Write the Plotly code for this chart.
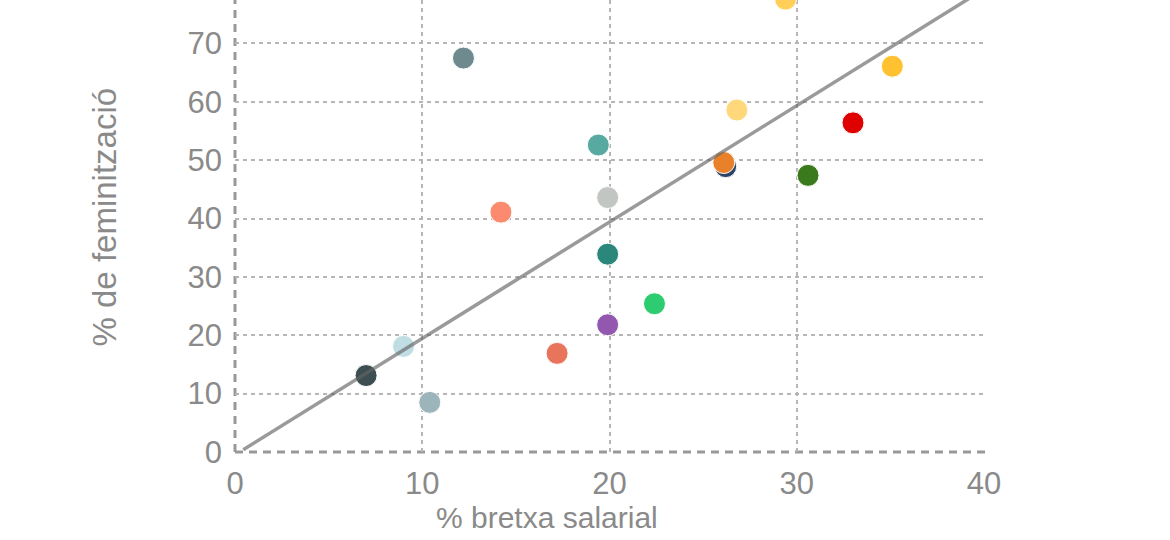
import plotly.graph_objects as go

# % bretxa salarial vs % de feminització
bretxa = [12.2, 19.4, 19.9, 14.2, 29.4, 35.1, 26.8, 33.0, 26.2, 26.1,
          30.6, 19.9, 22.4, 19.9, 17.2, 9.0, 7.0, 10.4]
feminitzacio = [67.5, 52.6, 43.6, 41.1, 77.6, 66.1, 58.6, 56.4, 48.9, 49.6,
                47.4, 33.9, 25.4, 21.8, 16.9, 18.1, 13.1, 8.5]
colors = ["#6e8a8f", "#58aaa1", "#c2c6c2", "#fb8a6e", "#ffcf5a", "#ffc12f",
          "#ffd87b", "#df0000", "#2c4466", "#e8812a", "#3a7a1c", "#2c877b",
          "#2ecc71", "#9457b0", "#e8745b", "#bfdde2", "#3c4e51", "#9bb5bb"]

# regression line
trend_x = [0.44, 40.5]
trend_y = [0.4, 80.3]

x_title = "% bretxa salarial"
y_title = "% de feminització"

grey = "#8a8a8a"

fig = go.Figure()
fig.add_trace(go.Scatter(
    x=bretxa, y=feminitzacio, mode="markers",
    marker=dict(size=22, color=colors, opacity=1,
                line=dict(color="white", width=1)),
    hoverinfo="x+y", showlegend=False,
))
fig.add_trace(go.Scatter(
    x=trend_x, y=trend_y, mode="lines",
    line=dict(color="rgba(100,100,100,0.65)", width=3.5),
    hoverinfo="skip", showlegend=False,
))

# dashed axis lines on left and bottom
axis_line = dict(color="#999999", width=3, dash="8px,6px")
fig.add_shape(type="line", xref="paper", yref="paper", x0=0, x1=0, y0=0, y1=1,
              line=axis_line, layer="below")
fig.add_shape(type="line", xref="paper", yref="paper", x0=0, x1=1, y0=0, y1=0,
              line=axis_line, layer="below")

# axis titles as annotations (the x one sits left of centre in the original)
fig.add_annotation(text=x_title, xref="paper", yref="paper", x=0.4166, y=-0.146,
                   xanchor="center", yanchor="middle", showarrow=False,
                   font=dict(size=30, color=grey))
fig.add_annotation(text=y_title, xref="paper", yref="paper", x=-0.1736, y=0.5206,
                   xanchor="center", yanchor="middle", showarrow=False,
                   textangle=-90, font=dict(size=33, color=grey))

fig.update_layout(
    width=1170, height=540,
    margin=dict(l=235, r=185, t=0, b=88),
    plot_bgcolor="white", paper_bgcolor="white",
    font=dict(family="Liberation Sans, Arial, sans-serif", color=grey, size=31),
)
fig.update_xaxes(
    range=[0, 40.05], tickvals=[0, 10, 20, 30, 40],
    showgrid=True, gridcolor="#b5b5b5", gridwidth=1.5, griddash="4px,4px",
    zeroline=False, showline=False, ticks="", ticklabelstandoff=10,
    automargin=False,
)
fig.update_yaxes(
    range=[0, 77.45], tickvals=[0, 10, 20, 30, 40, 50, 60, 70],
    showgrid=True, gridcolor="#b5b5b5", gridwidth=1.5, griddash="4px,4px",
    zeroline=False, showline=False, ticks="", ticklabelstandoff=12,
    automargin=False,
)

# drop the default page margin so the figure sits at the window corner
fig.write_html("out.html", config={"displayModeBar": False},
               post_script="document.body.style.margin='0';")
